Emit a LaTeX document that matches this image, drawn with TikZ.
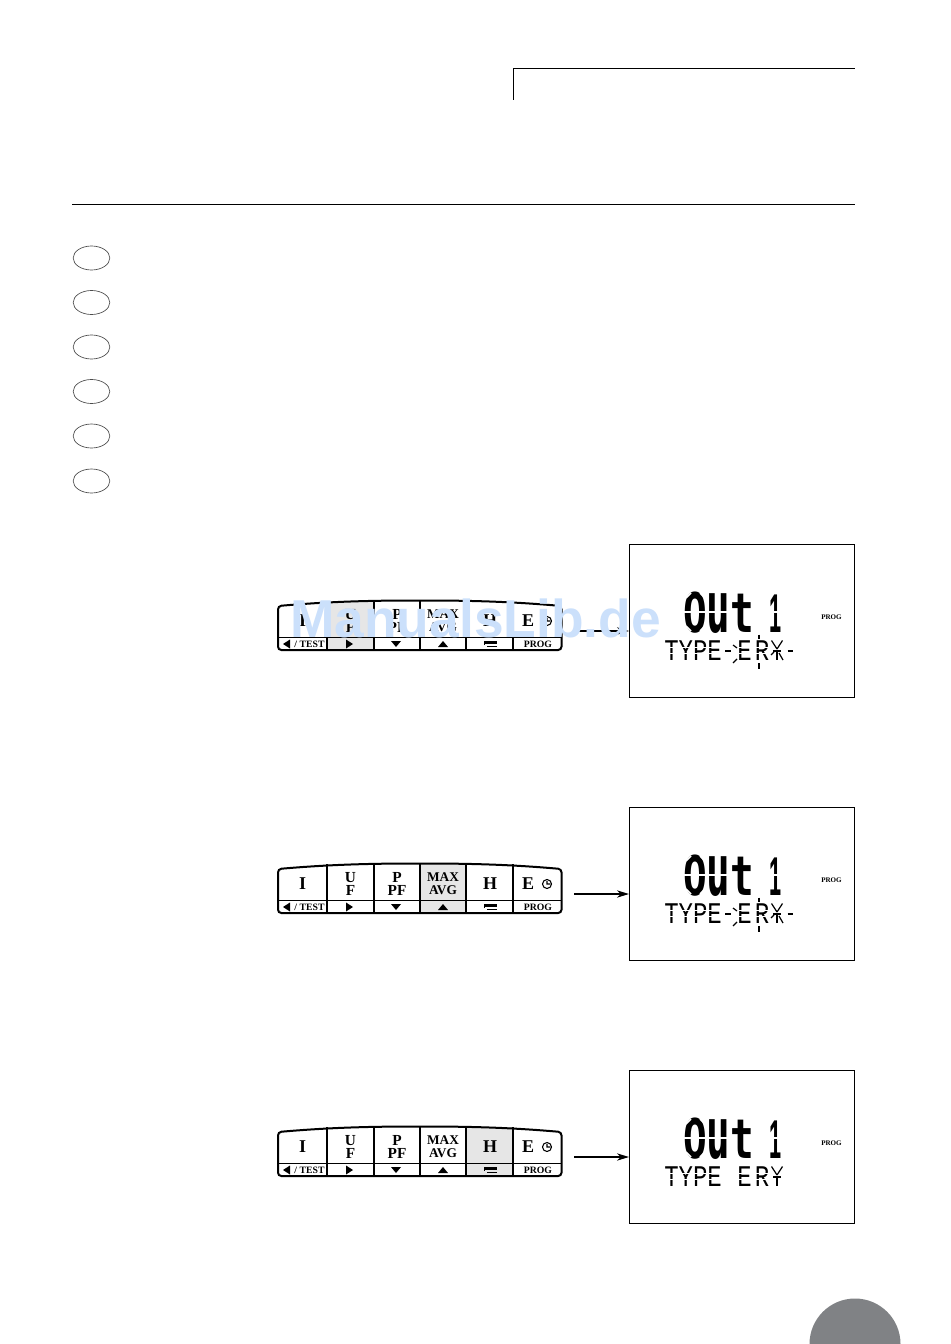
\documentclass[tikz,border=0pt]{standalone}
\usepackage{fontspec}
\setmainfont{Liberation Serif}
\newfontfamily\lcdfont{DejaVu Sans Mono}
\newfontfamily\thinfont{Liberation Mono}
\newfontfamily\wmfont{Liberation Sans}
\usetikzlibrary{arrows.meta,shapes.geometric}
\definecolor{hl}{HTML}{E6E6E6}
\definecolor{wm}{HTML}{CBE0FB}
\definecolor{disc}{HTML}{808285}
\tikzset{
 rulething/.style={line width=0.6pt,black},
 oval/.style={draw=black!70,line width=0.5pt,ellipse,minimum width=27.5pt,minimum height=18pt,inner sep=0pt},
 lcdbox/.style={draw=black,line width=0.6pt,minimum width=169pt,minimum height=115pt,inner sep=0pt},
 padline/.style={line width=1.5pt,black,rounded corners=2.5pt},
 padthin/.style={line width=1.1pt,black},
 keybig/.style={font=\fontsize{13.5}{13.5}\selectfont\bfseries,inner sep=0pt},
 keytwo/.style={font=\fontsize{11.5}{9.75}\selectfont\bfseries,inner sep=0pt,align=center},
 keymax/.style={font=\fontsize{10}{9.75}\selectfont\bfseries,inner sep=0pt,align=center},
 keysmall/.style={font=\fontsize{7.3}{8}\selectfont\bfseries,inner sep=0pt},
 proglabel/.style={font=\fontsize{5.3}{6}\selectfont\bfseries,inner sep=0pt},
 bigseg/.style={font=\lcdfont\bfseries\fontsize{41}{41}\selectfont,inner sep=0pt,anchor=base west},
 thinseg/.style={font=\thinfont\fontsize{22.5}{22.5}\selectfont,inner sep=0pt,anchor=base west},
 blink/.style={line width=0.9pt,black},
 gap/.style={line width=1.1pt,white},
 thingap/.style={line width=0.7pt,white},
 flow/.style={line width=0.9pt,black,-{Stealth[length=9pt,width=5.5pt]}},
}
\newcommand{\keypad}[3]{%
 \begin{scope}[shift={(0,#2)}]
  \ifnum#3=2 \fill[hl] (327,864) rectangle (374,913);\fi
  \ifnum#3=4 \fill[hl] (420,863.5) rectangle (466,913);\fi
  \ifnum#3=5 \fill[hl] (466,864) rectangle (513,913);\fi
  \draw[padline] (278,913) -- (278,869) .. controls (330,864.5) and (370,863.5) .. (420,863.5) .. controls (470,863.5) and (510,864.5) .. (561.5,869) -- (561.5,913) -- cycle;
  \draw[padthin] (278,900.5) -- (561.5,900.5);
  \foreach \cx in {327,374,420,466,513} \draw[padthin] (\cx,864) -- (\cx,913);
  \node[keybig] (#1I) at (302.5,884) {I};
  \node[keytwo] (#1U) at (350.5,884) {U\\F};
  \node[keytwo] (#1P) at (397,884) {P\\PF};
  \node[keymax] (#1M) at (443,884) {MAX\\AVG};
  \node[keybig] (#1H) at (490,884) {H};
  \node[keybig] (#1E) at (528,884) {E};
  \draw[line width=0.8pt] (547,884) circle (4.5) (547,881) -- (547,884) -- (550,884);
  \fill (283,907) -- (290,902.5) -- (290,911.5) -- cycle;
  \node[keysmall] (#1T) at (309.5,907) {/ TEST};
  \fill (346,902.5) -- (353,907) -- (346,911.5) -- cycle;
  \fill (391,904) -- (401,904) -- (396,910) -- cycle;
  \fill (438,910) -- (448,910) -- (443,904) -- cycle;
  \fill (484,903.5) rectangle (497,906.5);
  \draw[line width=0.6pt] (497,909.5) -- (487,909.5);
  \draw[line width=0.6pt] (484.5,906) -- (484.5,908);
  \node[keysmall] (#1R) at (538,907) {PROG};
  \coordinate (#1out) at (574,894);
 \end{scope}}
\newcommand{\lcd}[3]{%
 \begin{scope}[shift={(0,#2)}]
  \node[lcdbox] (#1box) at (742,884) {};
  \node[proglabel] (#1prog) at (831.5,880) {PROG};
  \node[bigseg] (#1big) at (683,895) {\scalebox{0.72}[1]{O\scalebox{1}[1.3]{u}t\kern-8.5pt\ {\wmfont\bfseries\scalebox{0.55}[1]{1}}}};
  \node[thinseg] (#1type) at (664,923) {\scalebox{0.8}[1]{TYPE}};
  \node[thinseg] (#1er) at (737,923) {\scalebox{0.8}[1]{E\kern3pt R}};
  \foreach \gx in {683,708,770} \draw[gap] (\gx,875) -- +(24,0);
  \draw[gap] (686,861) -- (691,856);
  \draw[gap] (700,856) -- (705,861);
  \draw[gap] (686,889) -- (691,894);
  \draw[gap] (700,894) -- (705,889);
  \draw[thingap] (664,910.5) -- (773,910.5);
  \draw[thingap] (664,916.5) -- (773,916.5);
  \draw[blink] (777,914) -- (777,923);
  \draw[blink] (771.5,903.5) -- (777,912);
  \draw[blink] (782.5,903.5) -- (777,912);
  \draw[blink] (773,914) -- (781,914);
  \ifnum#3=1
   \draw[blink] (725,914) -- (731,914);
   \draw[blink] (733,908) -- (737,911);
   \draw[blink] (737,922) -- (733,926);
   \draw[blink] (759,897.5) -- (759,902);
   \draw[blink] (759,926) -- (759,932);
   \draw[blink] (771,918) -- (774,915);
   \draw[blink] (783,923) -- (779,916);
   \draw[blink] (787.5,914) -- (793,914);
  \fi
 \end{scope}}
\begin{document}
\begin{tikzpicture}[x=0.75pt,y=-0.75pt]
 \useasboundingbox (0,0) rectangle (950,1344);
 \fill[white] (0,0) rectangle (950,1344);
 \coordinate (tabA) at (513.5,100);
 \coordinate (tabB) at (513.5,68.5);
 \coordinate (tabC) at (855,68.5);
 \draw[rulething] (tabA) -- (tabB) -- (tabC);
 \coordinate (ruleL) at (72,204.5);
 \coordinate (ruleR) at (855,204.5);
 \draw[rulething] (ruleL) -- (ruleR);
 \foreach \oy [count=\oi] in {258,302.5,347,391.5,436,481}
  \node[oval,draw] (oval\oi) at (91.5,\oy) {};
 \fill[disc] (809.5,1344) arc (180:360:45.5) -- cycle;
 \keypad{a}{-263}{2}
 \keypad{b}{0}{4}
 \keypad{c}{263}{5}
 \lcd{a}{-263}{1}
 \lcd{b}{0}{1}
 \lcd{c}{263}{0}
 \draw[flow] (aout) -- (abox.west |- aout);
 \draw[flow] (bout) -- (bbox.west |- bout);
 \draw[flow] (cout) -- (cbox.west |- cout);
 \node[text=wm,font=\wmfont\bfseries\fontsize{40}{40}\selectfont,inner sep=0pt,anchor=base west] (watermark) at (290,637) {ManualsLib.de};
\end{tikzpicture}
\end{document}
